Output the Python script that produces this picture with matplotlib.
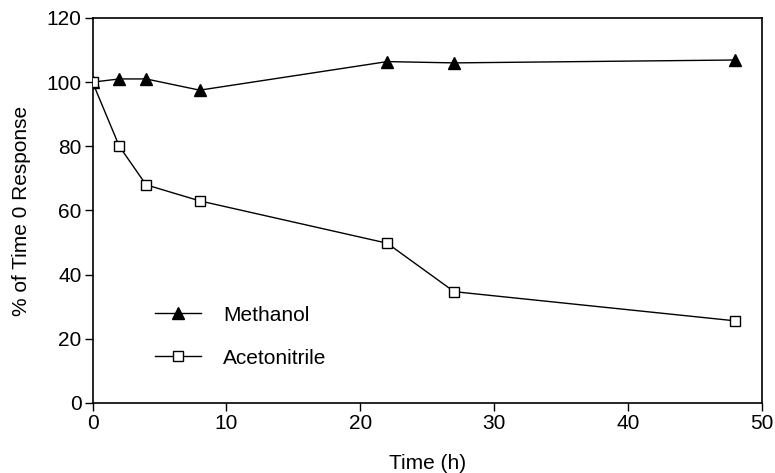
import matplotlib
matplotlib.use("Agg")
import matplotlib.pyplot as plt

# Stability in each solvent, relative to the response at time 0
time_h = [0, 2, 4, 8, 22, 27, 48]
methanol = [100, 101, 101, 97.5, 106.4, 106, 106.9]
acetonitrile = [100, 80, 68, 63, 49.8, 34.7, 25.6]

plt.rcParams["font.family"] = ["Liberation Sans", "DejaVu Sans"]
FS = 15

fig = plt.figure(figsize=(7.75, 4.73), dpi=100)
ax = fig.add_axes([0.1194, 0.148, 0.864, 0.814])

ax.plot(time_h, methanol, color="black", lw=1.0, marker="^", markersize=8.5,
        markerfacecolor="black", markeredgecolor="black", label="Methanol", zorder=3)
ax.plot(time_h, acetonitrile, color="black", lw=1.0, marker="s", markersize=7.5,
        markerfacecolor="white", markeredgecolor="black", markeredgewidth=1.0,
        label="Acetonitrile", zorder=3)

ax.set_xlim(0, 50)
ax.set_ylim(0, 120)
ax.set_xticks(range(0, 51, 10))
ax.set_yticks(range(0, 121, 20))
ax.tick_params(direction="out", length=6, width=1, labelsize=FS, pad=2)
for s in ax.spines.values():
    s.set_linewidth(1.2)

ax.set_xlabel("Time (h)", fontsize=FS, labelpad=15)
ax.set_ylabel("% of Time 0 Response", fontsize=FS, labelpad=11)

ax.legend(loc="lower left", bbox_to_anchor=(0.066, 0.043), frameon=False,
          fontsize=FS, handlelength=2.2, handletextpad=1.05, labelspacing=1.15,
          borderpad=0.4)

fig.savefig("out.png", dpi=100)
